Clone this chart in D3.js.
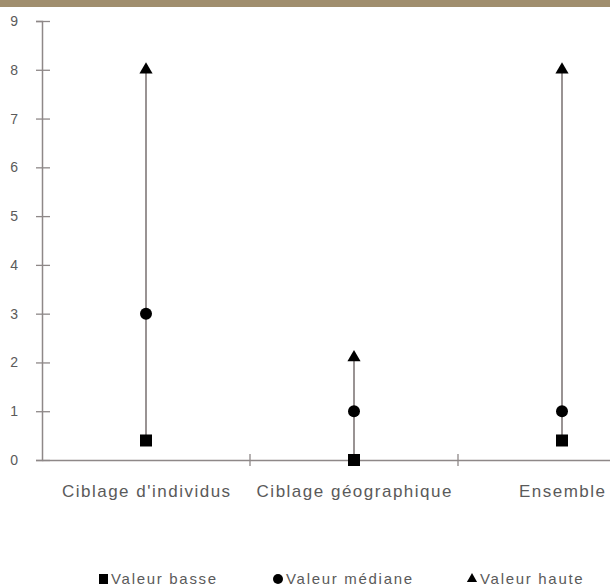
<!DOCTYPE html>
<html><head><meta charset="utf-8">
<script src="https://cdn.jsdelivr.net/npm/d3@7"></script>
<style>body{margin:0;background:#fff}svg{display:block}</style>
</head><body>
<script>
const categories = ["Ciblage d'individus", "Ciblage géographique", "Ensemble"];
const lowValues = [0.4, 0, 0.4];
const medianValues = [3, 1, 1];
const highValues = [8, 2.1, 8];
const yTicks = [0,1,2,3,4,5,6,7,8,9];
const legendLabels = ["Valeur basse", "Valeur médiane", "Valeur haute"];

const W = 610, H = 588;
const svg = d3.select("body").append("svg").attr("width", W).attr("height", H);
svg.append("rect").attr("x",0).attr("y",0).attr("width",W).attr("height",7).attr("fill","#a08e6e");

const plotLeft = 42, plotBottom = 460, plotTop = 21;
const x = d3.scaleBand().domain(categories).range([plotLeft, plotLeft + 208*3]);
const y = d3.scaleLinear().domain([0, 9]).range([plotBottom, plotTop]);
const font = "Liberation Sans, Arial, sans-serif";
const axisColor = "#8e8888";
const textColor = "#5a5a5a";

// y axis
const ya = svg.append("g").attr("transform", `translate(${plotLeft},0)`)
  .call(d3.axisLeft(y).tickValues(yTicks).tickSize(6).tickPadding(18).tickFormat(d3.format("d")));
ya.select(".domain").attr("stroke", axisColor).attr("stroke-width", 1.5);
ya.selectAll(".tick line").attr("stroke", axisColor).attr("stroke-width", 1.3).attr("x1", 8);
ya.selectAll("text").attr("font-family", font).attr("font-size", 14).attr("fill", textColor);

// x axis
const xa = svg.append("g").attr("transform", `translate(0,${plotBottom})`)
  .call(d3.axisBottom(x).tickSize(0).tickPadding(25));
xa.select(".domain").attr("stroke", axisColor).attr("stroke-width", 1.5);
xa.selectAll("text").attr("font-family", font).attr("font-size", 17)
  .attr("letter-spacing", 1.5).attr("dx", 0.75).attr("fill", textColor);
// boundary ticks
svg.append("g").selectAll("line").data(categories.slice(1)).join("line")
  .attr("x1", d => x(d)).attr("x2", d => x(d))
  .attr("y1", plotBottom - 6).attr("y2", plotBottom + 6)
  .attr("stroke", axisColor).attr("stroke-width", 1.3);

const data = categories.map((c, i) => ({c, lo: lowValues[i], med: medianValues[i], hi: highValues[i]}));
const cx = d => x(d.c) + x.bandwidth()/2;

svg.append("g").selectAll("line").data(data).join("line")
  .attr("x1", cx).attr("x2", cx)
  .attr("y1", d => y(d.lo)).attr("y2", d => y(d.hi))
  .attr("stroke", "#999393").attr("stroke-width", 2);

svg.append("g").selectAll("rect").data(data).join("rect")
  .attr("x", d => cx(d) - 6).attr("y", d => y(d.lo) - 6)
  .attr("width", 12).attr("height", 12).attr("fill", "#000");
svg.append("g").selectAll("circle").data(data).join("circle")
  .attr("cx", cx).attr("cy", d => y(d.med)).attr("r", 6).attr("fill", "#000");
const tri = d3.symbol().type(d3.symbolTriangle).size(75);
svg.append("g").selectAll("path").data(data).join("path")
  .attr("transform", d => `translate(${cx(d)},${y(d.hi)})`)
  .attr("d", tri).attr("fill", "#000");

// legend
const lg = svg.append("g").attr("font-family", font).attr("font-size", 15)
  .attr("letter-spacing", 1.7).attr("fill", textColor);
const lx = [103, 278, 472], ly = 579;
lg.append("rect").attr("x", lx[0]-4).attr("y", ly-5).attr("width", 9).attr("height", 10).attr("fill", "#000");
lg.append("circle").attr("cx", lx[1]).attr("cy", ly).attr("r", 5).attr("fill", "#000");
lg.append("path").attr("transform", `translate(${lx[2]},${ly})`).attr("d", d3.symbol().type(d3.symbolTriangle).size(45)).attr("fill", "#000");
lg.selectAll("text").data(legendLabels).join("text")
  .attr("x", (d,i) => lx[i] + 8).attr("y", ly + 5).text(d => d);
</script>
</body></html>
